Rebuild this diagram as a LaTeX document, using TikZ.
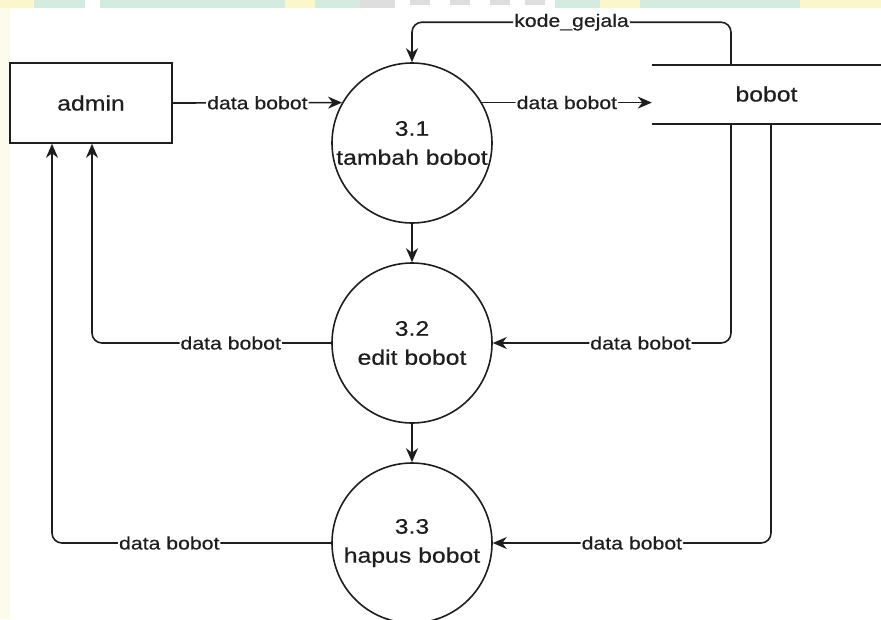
\documentclass[tikz,border=0pt]{standalone}
\usepackage{fontspec}
\setmainfont{Liberation Sans}[FakeStretch=1.18,FakeBold=0.4]
\usetikzlibrary{arrows.meta,calc}
\definecolor{wmgreen}{HTML}{D3ECDF}
\definecolor{wmyellow}{HTML}{FBF6CC}
\definecolor{wmgrey}{HTML}{DEDEDE}
\definecolor{ink}{HTML}{1E1E1E}
\begin{document}
\begin{tikzpicture}[x=1pt,y=-1pt,
  line/.style={line width=1.6pt, draw=ink},
  flow/.style={line, -{Stealth[length=14pt,width=12pt,inset=4.5pt]}, rounded corners=10pt},
  lbl/.style={fill=white, inner sep=1pt, text=ink, font=\fontsize{18}{20}\selectfont},
  proc/.style={circle, line, minimum size=160pt, inner sep=0pt, align=center, text=ink,
    font=\fontsize{21}{29}\selectfont},
  entity/.style={rectangle, line, minimum width=162pt, minimum height=80pt, text=ink,
    font=\fontsize{21}{25}\selectfont},
  datastore/.style={rectangle, minimum width=229pt, minimum height=60pt, text=ink,
    font=\fontsize{21}{25}\selectfont}]

\clip (0,0) rectangle (881,619);
\fill[white] (0,0) rectangle (881,619);

% pale band along the top and left edges
\fill[wmgreen] (0,0) rectangle (881,8);
\fill[wmyellow] (0,0) rectangle (34,8);
\fill[white] (85,0) rectangle (100,8);
\fill[wmyellow] (285,0) rectangle (315,8);
\fill[wmgrey] (360,0) rectangle (395,8);
\fill[white] (395,0) rectangle (555,8);
\fill[wmgrey] (410,0) rectangle (430,5);
\fill[wmgrey] (450,0) rectangle (470,5);
\fill[wmgrey] (490,0) rectangle (510,5);
\fill[wmgrey] (525,0) rectangle (545,5);
\fill[wmyellow] (600,0) rectangle (640,8);
\fill[wmyellow] (800,0) rectangle (881,8);
\fill[wmyellow!40!white] (0,8) rectangle (10,619);

% processes, entity and data store
\node[entity] (admin) at (91,103) {admin};
\node[proc] (p1) at (412,143) {3.1\\tambah bobot};
\node[proc] (p2) at (412,343) {3.2\\edit bobot};
\node[proc] (p3) at (412,543) {3.3\\hapus bobot};
\node[datastore] (bobot) at (766.5,94) {bobot};
\draw[line] ([yshift=-1pt]bobot.north west) -- ([yshift=-1pt]bobot.north east);
\draw[line] (bobot.south west) -- (bobot.south east);

\coordinate (s1) at ([xshift=-35.5pt,yshift=-1pt]bobot.north);
\coordinate (s2) at ([xshift=-35.5pt]bobot.south);
\coordinate (s3) at ([xshift=4.5pt]bobot.south);

% data flows
\draw[flow] (admin.east) -- node[lbl]{data bobot} (p1.150);
\draw[flow] (p1.30) -- node[lbl]{data bobot} (p1.30 -| bobot.west);
\draw[flow] (s1) |- node[lbl,pos=0.75]{kode\_gejala} ($(p1.north)+(0,-40)$) -- (p1.north);
\draw[flow] (s2) |- node[lbl,pos=0.69]{data bobot} (p2.east);
\draw[flow] (s3) |- node[lbl,pos=0.75]{data bobot} (p3.east);
\draw[flow] (p2.west) -| node[lbl,pos=0.21]{data bobot} ([xshift=1pt]admin.south);
\draw[flow] (p3.west) -| node[lbl,pos=0.29]{data bobot} ([xshift=-39pt]admin.south);
\draw[flow] (p1.south) -- (p2.north);
\draw[flow] (p2.south) -- (p3.north);
\end{tikzpicture}
\end{document}
